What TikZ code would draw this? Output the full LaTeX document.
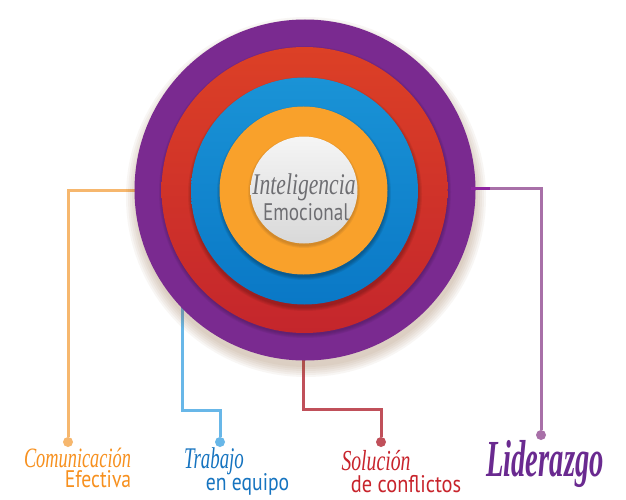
\documentclass[tikz,border=0pt]{standalone}
\usepackage{fontspec}
\setmainfont{Liberation Serif}
\newfontfamily\plainfont{PT Sans}
\usetikzlibrary{positioning}
\definecolor{ringpurple}{HTML}{7A2A90}
\definecolor{redtop}{HTML}{DC4026}
\definecolor{redlow}{HTML}{C4262C}
\definecolor{bluetop}{HTML}{1A93D6}
\definecolor{bluelow}{HTML}{0A78C6}
\definecolor{ringorange}{HTML}{F9A12B}
\definecolor{textgray}{HTML}{6E6E72}
\definecolor{textorange}{HTML}{F7901E}
\definecolor{textblue}{HTML}{1674C0}
\definecolor{textred}{HTML}{C8242C}
\definecolor{textpurple}{HTML}{6A2A90}
\definecolor{leadorange}{HTML}{F6B76E}
\definecolor{leadblue}{HTML}{68B7E8}
\definecolor{leadred}{HTML}{C0505A}
\definecolor{leadpurple}{HTML}{A870A8}
\tikzset{
    ring/.style={circle, inner sep=0pt, minimum size=#1},
    leader/.style={line width=3pt},
    dot/.style={circle, inner sep=0pt, minimum size=10pt},
    script/.style 2 args={font=\itshape\fontsize{#1}{#1}\selectfont, xscale=#2, inner sep=0pt},
    plain/.style 2 args={font=\plainfont\fontsize{#1}{#1}\selectfont, xscale=#2, inner sep=0pt}
}
\begin{document}
\begin{tikzpicture}[x=1pt, y=-1pt]
    \useasboundingbox (0,0) rectangle (626,500);
    \fill [white] (0,0) rectangle (626,500);
    % leaders
    \coordinate (efectivastart) at (136,190);
    \coordinate (equipostart) at (182,300);
    \coordinate (equipobend) at (220,410);
    \coordinate (conflictostart) at (303,350);
    \coordinate (conflictobend) at (381,409);
    \coordinate (liderfade) at (490,188.5);
    \node [dot, minimum size=7pt, fill=ringpurple!80!magenta] (liderstart) at (467,188.5) {};
    \node [dot, fill=leadorange] (efectivadot) at (68,442) {};
    \node [dot, fill=leadblue] (equipodot) at (220,442) {};
    \node [dot, fill=leadred] (conflictodot) at (381,442) {};
    \node [dot, fill=leadpurple] (liderdot) at (541,435) {};
    \draw [leader, leadorange] (efectivastart) -| (efectivadot);
    \draw [leader, leadblue] (equipostart) |- (equipobend) -- (equipodot);
    \draw [leader, leadred] (conflictostart) |- (conflictobend) -- (conflictodot);
    % soft shadow
    \foreach \r in {180,178,...,170} {
        \fill [brown!70!black, opacity=0.05] (306,197) circle (\r);
    }
    % rings
    \node [ring=341pt, fill=ringpurple] (purple) at (305,190) {};
    \foreach \r in {146,145,144,143} {
        \fill [black, opacity=0.05] (305,192) circle (\r);
    }
    \node [ring=286pt, top color=redtop, bottom color=redlow] (red) at (304.5,190) {};
    \foreach \r in {117,116,115,114} {
        \fill [black, opacity=0.06] (305,194) circle (\r);
    }
    \node [ring=227pt, top color=bluetop, bottom color=bluelow] (blue) at (304.5,191) {};
    \foreach \r in {87,86,85,84} {
        \fill [black, opacity=0.07] (304,193) circle (\r);
    }
    \node [ring=168pt, fill=ringorange] (orange) at (303.5,190.5) {};
    \foreach \r in {56,55,54} {
        \fill [brown!60!black, opacity=0.1] (304,192) circle (\r);
    }
    \node [ring=107pt, top color=white!96!black, bottom color=white!85!black] (disc) at (304,190) {};
    \draw [leader, ringpurple!85!magenta] (liderstart) -- (liderfade);
    \draw [leader, leadpurple] (liderfade) -| (liderdot);
    % labels
    \node [script={30}{0.72}, textgray] (inteligencia) at (304,187) {Inteligencia};
    \node [plain={24}{0.8}, textgray] (emocional) at (306,212) {Emocional};
    \node [script={28}{0.655}, textorange] (comunicacion) at (77.5,458) {Comunicación};
    \node [plain={24}{0.82}, textorange] (efectiva) at (98,479) {Efectiva};
    \node [script={30}{0.63}, textblue] (trabajo) at (214,461) {Trabajo};
    \node [plain={24}{0.82}, textblue] (equipo) at (247.5,484) {en equipo};
    \node [script={29}{0.68}, textred] (solucion) at (376,461) {Solución};
    \node [plain={24}{0.85}, textred] (conflictos) at (406,484) {de conflictos};
    \node [script={52}{0.55}, textpurple, font=\bfseries\itshape\fontsize{52}{52}\selectfont] (liderazgo) at (545,464) {Liderazgo};
\end{tikzpicture}
\end{document}
